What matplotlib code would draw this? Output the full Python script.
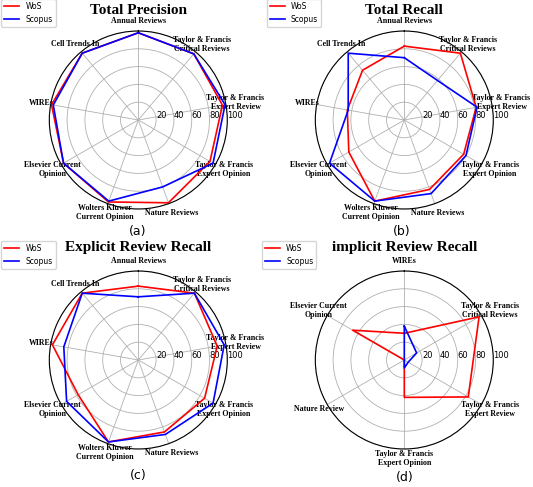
import numpy as np
import matplotlib
matplotlib.use('Agg')
import matplotlib.pyplot as plt

W, H = 533, 487

# categories (clockwise from top)
cats9 = ['Annual Reviews', 'Taylor & Francis\nCritical Reviews', 'Taylor & Francis\nExpert Review',
         'Taylor & Francis\nExpert Opinion', 'Nature Reviews', 'Wolters Kluwer\nCurrent Opinion',
         'Elsevier Current\nOpinion', 'WIREs', 'Cell Trends In']
cats6 = ['WIREs', 'Taylor & Francis\nCritical Reviews', 'Taylor & Francis\nExpert Review',
         'Taylor & Francis\nExpert Opinion', 'Nature Review', 'Elsevier Current\nOpinion']

# values (%)
wos_prec = [98, 97, 96, 93, 99, 98, 97, 99, 98]
scopus_prec = [98, 97, 99, 97, 80, 97, 97, 97, 98]
wos_rec = [83, 98, 82, 77, 83, 97, 72, 65, 73]
scopus_rec = [70, 58, 83, 80, 88, 97, 97, 64, 98]
wos_exp = [83, 98, 90, 86, 86, 98, 78, 98, 98]
scopus_exp = [71, 98, 98, 97, 89, 98, 93, 85, 98]
wos_imp = [30, 97, 83, 42, 0, 67]
scopus_imp = [38, 16, 5, 9, 0, 0]

r_ticks = [20, 40, 60, 80, 100]

panels = [
    ('Total Precision', cats9, wos_prec, scopus_prec, '(a)'),
    ('Total Recall', cats9, wos_rec, scopus_rec, '(b)'),
    ('Explicit Review Recall', cats9, wos_exp, scopus_exp, '(c)'),
    ('implicit Review Recall', cats6, wos_imp, scopus_imp, '(d)'),
]

# layout in pixels: polar centre, title baseline, caption y, legend corner
centers = [(138.3, 120), (404.3, 120), (138.3, 360), (404.3, 360)]
title_y = [13.5, 13.5, 251, 251]
caption_xy = [(138, 231), (402, 231), (138.3, 475), (404.3, 478)]
legend_xy = [(1, -1), (266.5, -1), (1, 240.7), (261.7, 240.7)]
R = 89

fig = plt.figure(figsize=(W / 100, H / 100), dpi=100)

for (title, cats, wos, scopus, cap), (cx, cy), ty, (capx, capy), (lx, ly) in zip(
        panels, centers, title_y, caption_xy, legend_xy):
    ax = fig.add_axes([(cx - R) / W, 1 - (cy + R) / H, 2 * R / W, 2 * R / H], projection='polar')
    ax.set_theta_offset(np.pi / 2)
    ax.set_theta_direction(-1)
    n = len(cats)
    angles = np.linspace(0, 2 * np.pi, n, endpoint=False)
    closed = np.append(angles, angles[0])
    l1, = ax.plot(closed, wos + [wos[0]], color='red', lw=1.2, label='WoS')
    l2, = ax.plot(closed, scopus + [scopus[0]], color='blue', lw=1.2, label='Scopus')
    ax.set_ylim(0, 100)
    ax.set_yticks(r_ticks)
    ax.set_yticklabels([str(t) for t in r_ticks], fontsize=6)
    ax.set_rlabel_position(90)
    ax.set_xticks(angles)
    ax.set_xticklabels(cats, fontsize=5.7, fontweight='bold', family='Liberation Serif')
    ax.tick_params(axis='x', pad=-3.5)
    ax.grid(color='#b0b0b0', lw=0.6)

    fig.text(cx / W, 1 - ty / H, title, ha='center', va='baseline', fontsize=11,
             fontweight='bold', family='Liberation Serif')
    fig.text(capx / W, 1 - capy / H, cap, ha='center', va='center', fontsize=9)
    fig.legend([l1, l2], ['WoS', 'Scopus'], loc='upper left',
               bbox_to_anchor=(lx / W, 1 - ly / H), fontsize=5.5, borderaxespad=0)

fig.savefig('out.png', dpi=100)
